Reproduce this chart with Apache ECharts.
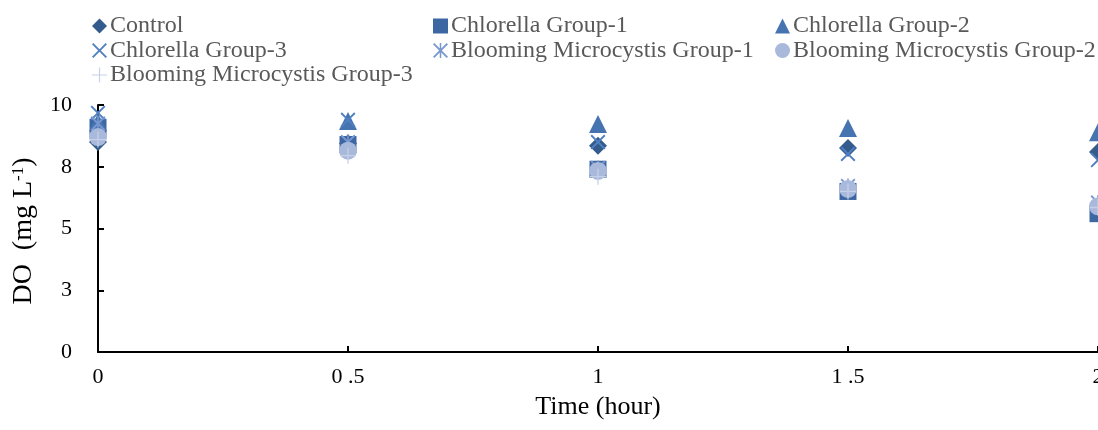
<!DOCTYPE html>
<html>
<head>
<meta charset="utf-8">
<script src="https://cdn.jsdelivr.net/npm/echarts@6/dist/echarts.min.js"></script>
<style>
  html, body { margin: 0; padding: 0; background: #fff; }
  #chart { width: 1098px; height: 430px; }
</style>
</head>
<body>
<div id="chart"></div>
<script>
// Sampling times (hour)
const times = [0, 0.5, 1, 1.5, 2];

// Dissolved oxygen (mg L-1) per group
const control        = [8.50, 8.45, 8.35, 8.26, 8.10];
const chlorella1     = [9.10, 8.40, 7.40, 6.50, 5.60];
const chlorella2     = [9.30, 9.35, 9.23, 9.07, 8.90];
const chlorella3     = [9.68, 9.40, 8.50, 8.02, 7.77];
const microcystis1   = [9.25, 8.50, 7.45, 6.72, 6.05];
const microcystis2   = [8.70, 8.15, 7.33, 6.60, 5.90];
const microcystis3   = [8.60, 7.95, 7.10, 6.50, 5.85];

// Axis tick labels
const xTickLabels = { 0: '0', 0.5: '0 .5', 1: '1', 1.5: '1 .5', 2: '2' };
const yTickLabels = { 0: '0', 2.5: '3', 5: '5', 7.5: '8', 10: '10' };

const FONT = "'Liberation Serif', 'Times New Roman', serif";

// Marker outlines drawn as filled polygons
const X_PATH = 'path://M0,9 L9,0 L50,41 L91,0 L100,9 L59,50 L100,91 L91,100 L50,59 L9,100 L0,91 L41,50 Z';
const ASTERISK_PATH = 'path://M0,9 L9,0 L50,41 L91,0 L100,9 L59,50 L100,91 L91,100 L50,59 L9,100 L0,91 L41,50 Z M45,0 L55,0 L55,100 L45,100 Z';
const PLUS_PATH = 'path://M46,0 L54,0 L54,46 L100,46 L100,54 L54,54 L54,100 L46,100 L46,54 L0,54 L0,46 L46,46 Z';

const seriesDefs = [
  { name: 'Control', data: control, symbol: 'diamond', size: 18, color: '#335b8c' },
  { name: 'Chlorella Group-1', data: chlorella1, symbol: 'rect', size: 17, color: '#3d67a2' },
  { name: 'Chlorella Group-2', data: chlorella2, symbol: 'triangle', size: 18, color: '#4674b1' },
  { name: 'Chlorella Group-3', data: chlorella3, symbol: X_PATH, size: 15, color: '#5080c2' },
  { name: 'Blooming Microcystis Group-1', data: microcystis1, symbol: ASTERISK_PATH, size: 15, color: '#7a98d0' },
  { name: 'Blooming Microcystis Group-2', data: microcystis2, symbol: 'circle', size: 18, color: '#a8b9dc' },
  { name: 'Blooming Microcystis Group-3', data: microcystis3, symbol: PLUS_PATH, size: 16, color: '#c6d1e8' }
];

const legendCommon = {
  orient: 'vertical',
  top: 14,
  itemWidth: 15,
  itemHeight: 15,
  itemGap: 0.5,
  padding: 0,
  textStyle: { fontFamily: FONT, fontSize: 24, color: '#595959', padding: [0, 0, 0, -2] }
};

const option = {
  animation: false,
  backgroundColor: '#ffffff',
  legend: [
    Object.assign({}, legendCommon, { left: 92, data: ['Control', 'Chlorella Group-3', 'Blooming Microcystis Group-3'] }),
    Object.assign({}, legendCommon, { left: 433, data: ['Chlorella Group-1', 'Blooming Microcystis Group-1'] }),
    Object.assign({}, legendCommon, { left: 775, data: ['Chlorella Group-2', 'Blooming Microcystis Group-2'] })
  ],
  grid: { left: 98, right: 0, top: 105, bottom: 78, containLabel: false, outerBoundsMode: 'none' },
  xAxis: {
    type: 'value',
    min: 0, max: 2, interval: 0.5,
    name: 'Time (hour)',
    nameLocation: 'middle',
    nameGap: 42,
    nameTextStyle: { fontFamily: FONT, fontSize: 26, color: '#000' },
    axisLine: { lineStyle: { color: '#000', width: 2 } },
    axisTick: { inside: true, length: 6, lineStyle: { color: '#000', width: 2 } },
    splitLine: { show: false },
    axisLabel: {
      fontFamily: FONT, fontSize: 22, color: '#000', margin: 14,
      hideOverlap: false,
      formatter: v => xTickLabels[v] !== undefined ? xTickLabels[v] : String(v)
    }
  },
  yAxis: {
    type: 'value',
    min: 0, max: 10, interval: 2.5,
    name: 'DO  (mg L{sup|-1})',
    nameLocation: 'middle',
    nameRotate: 90,
    nameGap: 60,
    nameTextStyle: {
      fontFamily: FONT, fontSize: 28, color: '#000',
      padding: [0, 5, 0, 0],
      rich: { sup: { fontFamily: FONT, fontSize: 17, color: '#000', verticalAlign: 'top', padding: [0, 0, 11, 0] } }
    },
    axisLine: { show: true, lineStyle: { color: '#000', width: 2 } },
    axisTick: { show: true, inside: true, length: 6, lineStyle: { color: '#000', width: 2 } },
    splitLine: { show: false },
    axisLabel: {
      fontFamily: FONT, fontSize: 22, color: '#000', margin: 26,
      padding: [4, 0, 0, 0],
      formatter: v => yTickLabels[v] !== undefined ? yTickLabels[v] : String(v)
    }
  },
  series: seriesDefs.map(s => ({
    name: s.name,
    type: 'scatter',
    symbol: s.symbol,
    symbolSize: s.size,
    symbolKeepAspect: true,
    clip: false,
    itemStyle: { color: s.color, opacity: 1 },
    emphasis: { disabled: true },
    data: times.map((t, i) => [t, s.data[i]])
  }))
};

const chart = echarts.init(document.getElementById('chart'), null, { renderer: 'canvas' });
chart.setOption(option);
</script>
</body>
</html>
